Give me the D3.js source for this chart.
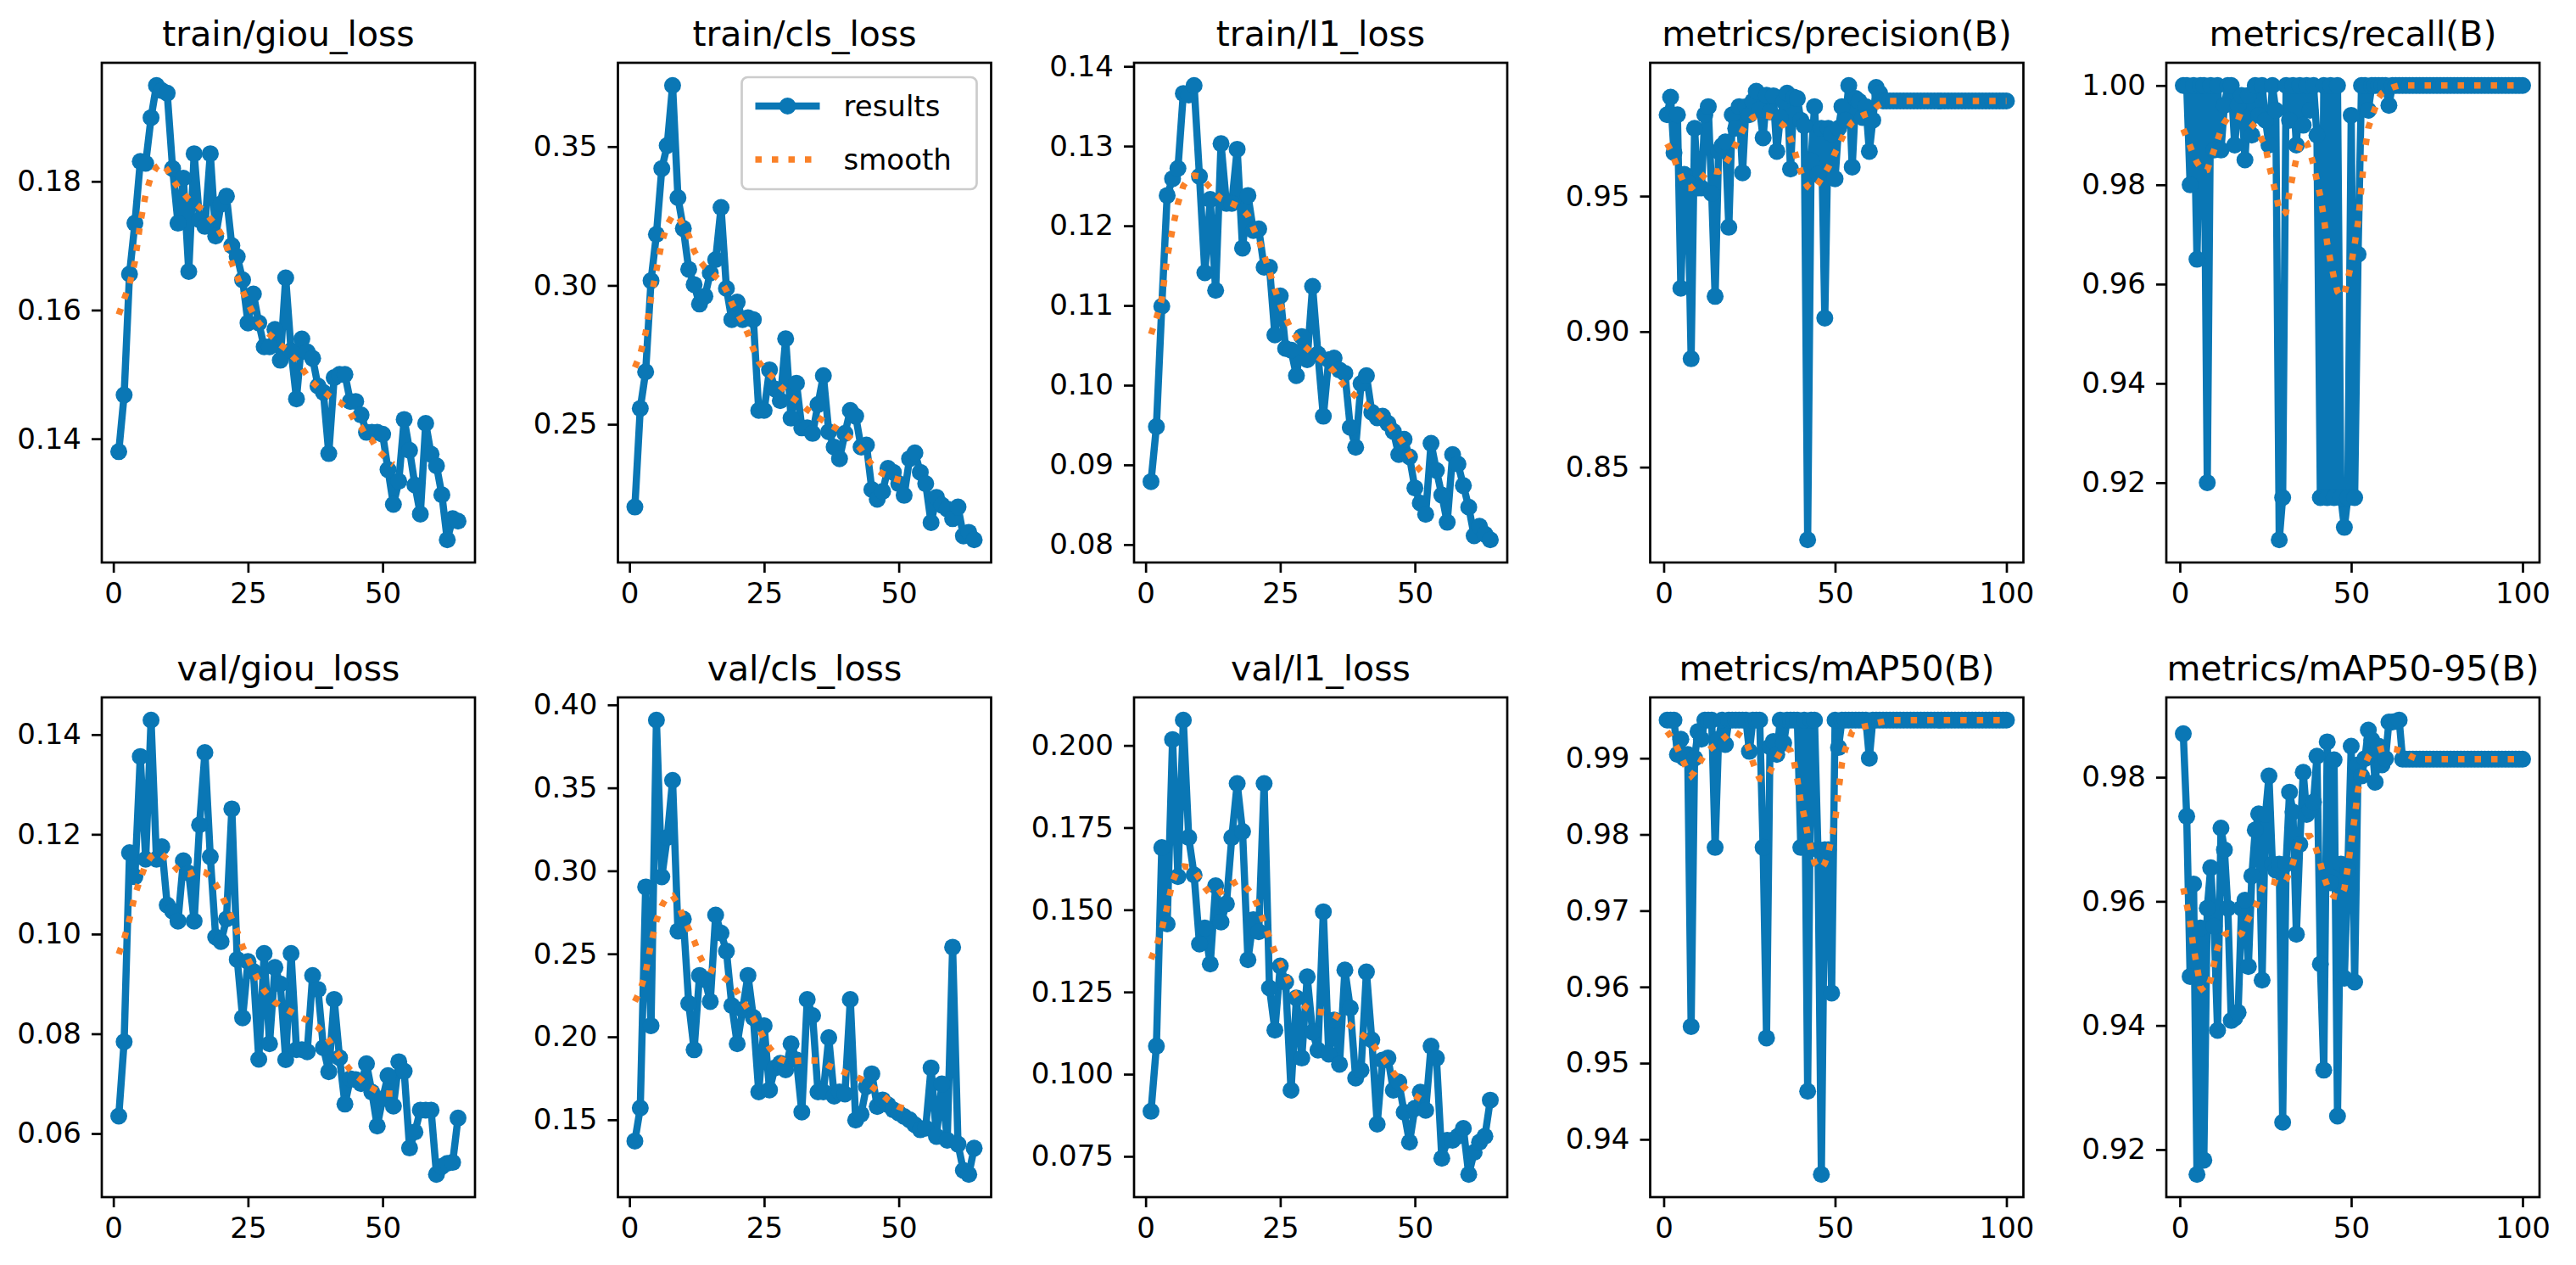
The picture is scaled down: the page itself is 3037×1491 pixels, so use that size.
<!DOCTYPE html>
<html>
<head>
<meta charset="utf-8">
<script src="https://cdn.jsdelivr.net/npm/d3@7"></script>
<style>
body { margin: 0; background: #fff; }
svg text { font-family: "DejaVu Sans", sans-serif; fill: #000; }
</style>
</head>
<body>
<svg id="chart" width="3037" height="1491"></svg>
<script>
// ---- data (one value per epoch) ----
const titles = ["train/giou_loss", "train/cls_loss", "train/l1_loss", "metrics/precision(B)", "metrics/recall(B)",
    "val/giou_loss", "val/cls_loss", "val/l1_loss", "metrics/mAP50(B)", "metrics/mAP50-95(B)"];

const trainGiou = [0.1380,0.1468,0.1656,0.1735,0.1831,0.1828,0.1899,0.1949,0.1941,0.1937,
    0.1820,0.1735,0.1805,0.1660,0.1843,0.1740,0.1730,0.1843,0.1715,0.1765,
    0.1777,0.1700,0.1683,0.1647,0.1580,0.1625,0.1580,0.1543,0.1543,0.1570,
    0.1522,0.1650,0.1537,0.1462,0.1555,0.1535,0.1525,0.1482,0.1472,0.1377,
    0.1495,0.1500,0.1500,0.1458,0.1458,0.1437,0.1410,0.1410,0.1410,0.1407,
    0.1352,0.1298,0.1334,0.1430,0.1382,0.1328,0.1283,0.1424,0.1376,0.1358,
    0.1313,0.1243,0.1276,0.1272];
const trainGiouSmooth = [0.1593,0.1617,0.1640,0.1675,0.1735,0.1780,0.1808,0.1822,0.1828,0.1818,
    0.1803,0.1791,0.1782,0.1772,0.1767,0.1760,0.1753,0.1742,0.1733,0.1718,
    0.1700,0.1673,0.1652,0.1630,0.1611,0.1594,0.1580,0.1570,0.1562,0.1555,
    0.1546,0.1540,0.1530,0.1522,0.1510,0.1498,0.1488,0.1480,0.1474,0.1467,
    0.1461,0.1457,0.1450,0.1440,0.1425,0.1418,0.1403,0.1398,0.1383,0.1375,
    0.1366,0.1360];

const trainCls = [0.2202,0.2557,0.2689,0.3017,0.3184,0.3421,0.3504,0.3720,0.3316,0.3205,
    0.3058,0.3003,0.2933,0.2961,0.3045,0.3093,0.3281,0.2989,0.2877,0.2940,
    0.2877,0.2884,0.2877,0.2550,0.2550,0.2696,0.2627,0.2585,0.2808,0.2522,
    0.2648,0.2487,0.2487,0.2467,0.2571,0.2675,0.2473,0.2418,0.2376,0.2467,
    0.2550,0.2529,0.2418,0.2425,0.2265,0.2230,0.2258,0.2341,0.2327,0.2286,
    0.2244,0.2376,0.2397,0.2327,0.2286,0.2146,0.2237,0.2209,0.2195,0.2160,
    0.2202,0.2098,0.2111,0.2084];
const trainClsSmooth = [0.2705,0.2752,0.2830,0.2955,0.3055,0.3155,0.3218,0.3252,0.3250,0.3215,
    0.3180,0.3125,0.3090,0.3065,0.3050,0.3032,0.3015,0.2982,0.2935,0.2900,
    0.2868,0.2825,0.2770,0.2725,0.2700,0.2680,0.2662,0.2637,0.2620,0.2598,
    0.2585,0.2570,0.2553,0.2540,0.2525,0.2512,0.2500,0.2490,0.2478,0.2465,
    0.2450,0.2430,0.2410,0.2380,0.2355,0.2335,0.2322,0.2315,0.2306,0.2300,
    0.2296,0.2292];

const trainL1 = [0.0879,0.0948,0.1099,0.1238,0.1259,0.1272,0.1366,0.1364,0.1376,0.1262,
    0.1141,0.1233,0.1119,0.1303,0.1228,0.1228,0.1296,0.1172,0.1238,0.1194,
    0.1196,0.1148,0.1148,0.1063,0.1112,0.1046,0.1044,0.1012,0.1061,0.1032,
    0.1124,0.1039,0.0961,0.1032,0.1034,0.1019,0.1015,0.0947,0.0922,0.1002,
    0.1012,0.0966,0.0959,0.0961,0.0952,0.0942,0.0913,0.0932,0.0910,0.0871,
    0.0852,0.0838,0.0927,0.0893,0.0862,0.0828,0.0913,0.0901,0.0874,0.0847,
    0.0811,0.0823,0.0813,0.0806];
const trainL1Smooth = [0.1064,0.1084,0.1108,0.1160,0.1196,0.1228,0.1250,0.1260,0.1263,0.1262,
    0.1255,0.1248,0.1240,0.1234,0.1231,0.1228,0.1225,0.1220,0.1213,0.1197,
    0.1182,0.1163,0.1143,0.1120,0.1101,0.1085,0.1070,0.1060,0.1052,0.1046,
    0.1040,0.1035,0.1030,0.1024,0.1017,0.1007,0.0998,0.0992,0.0986,0.0980,
    0.0975,0.0970,0.0965,0.0958,0.0952,0.0942,0.0935,0.0925,0.0913,0.0901,
    0.0893,0.0886];

const precision = [0.9800,0.9865,0.9660,0.9800,0.9160,0.9580,0.9550,0.8900,0.9750,0.9530,
    0.9530,0.9800,0.9830,0.9510,0.9130,0.9665,0.9686,0.9700,0.9385,0.9800,
    0.9750,0.9830,0.9586,0.9830,0.9800,0.9850,0.9887,0.9820,0.9715,0.9872,
    0.9810,0.9870,0.9665,0.9790,0.9850,0.9880,0.9600,0.9865,0.9860,0.9780,
    0.9760,0.8232,0.9630,0.9830,0.9580,0.9750,0.9050,0.9750,0.9730,0.9564,
    0.9750,0.9830,0.9780,0.9908,0.9607,0.9860,0.9850,0.9790,0.9830,0.9665,
    0.9780,0.9901,0.9880,0.9851,
    0.9851,0.9851,0.9851,0.9851,0.9851,0.9851,0.9851,0.9851,0.9851,0.9851,0.9851,0.9851,
    0.9851,0.9851,0.9851,0.9851,0.9851,0.9851,0.9851,0.9851,0.9851,0.9851,0.9851,0.9851,
    0.9851,0.9851,0.9851,0.9851,0.9851,0.9851,0.9851,0.9851,0.9851,0.9851,0.9851,0.9851];
const precisionSmooth = [0.9693,0.9670,0.9638,0.9605,0.9575,0.9545,0.9530,0.9530,0.9540,0.9552,
    0.9565,0.9580,0.9592,0.9595,0.9592,0.9590,0.9598,0.9620,0.9640,0.9665,
    0.9690,0.9715,0.9742,0.9762,0.9778,0.9790,0.9795,0.9798,0.9799,0.9798,
    0.9794,0.9788,0.9780,0.9770,0.9760,0.9740,0.9712,0.9675,0.9630,0.9590,
    0.9555,0.9535,0.9525,0.9528,0.9545,0.9565,0.9585,0.9605,0.9630,0.9660,
    0.9685,0.9712,0.9738,0.9755,0.9772,0.9782,0.9790,0.9797,0.9802,0.9806,
    0.9815,0.9828,0.9838,0.9845,0.9849,
    0.9851,0.9851,0.9851,0.9851,0.9851,0.9851,0.9851,0.9851,0.9851,0.9851,0.9851,0.9851,
    0.9851,0.9851,0.9851,0.9851,0.9851,0.9851,0.9851,0.9851,0.9851,0.9851,0.9851,0.9851,
    0.9851,0.9851,0.9851,0.9851,0.9851,0.9851,0.9851,0.9851,0.9851,0.9851,0.9851];

const recall = [1.000,1.000,0.980,1.000,0.965,1.000,1.000,0.920,1.000,0.987,
    1.000,0.987,0.996,1.000,1.000,0.988,0.996,0.998,0.985,0.998,
    0.990,1.000,0.994,1.000,0.993,0.988,1.000,0.995,0.9085,0.917,
    1.000,0.993,1.000,0.988,1.000,0.992,1.000,0.995,1.000,0.990,
    0.917,1.000,0.917,1.000,0.917,1.000,0.917,0.911,0.917,0.994,
    0.917,0.966,1.000,1.000,0.995,1.000,1.000,1.000,1.000,1.000,
    0.996,1.000,1.000,1.000,
    1,1,1,1,1,1,1,1,1,1,1,1,
    1,1,1,1,1,1,1,1,1,1,1,1,
    1,1,1,1,1,1,1,1,1,1,1,1];
const recallSmooth = [0.9912,0.9895,0.9878,0.9860,0.9845,0.9835,0.9828,0.9830,0.9850,0.9870,
    0.9890,0.9910,0.9925,0.9935,0.9940,0.9940,0.9938,0.9935,0.9932,0.9928,
    0.9922,0.9915,0.9905,0.9890,0.9877,0.9840,0.9812,0.9781,0.9750,0.9740,
    0.9745,0.9785,0.9820,0.9853,0.9878,0.9892,0.9885,0.9865,0.9840,0.9808,
    0.9777,0.9735,0.9682,0.9645,0.9612,0.9585,0.9575,0.9580,0.9610,0.9640,
    0.9680,0.9725,0.9795,0.9870,0.9915,0.9935,0.9955,0.9975,0.9985,0.9990,
    0.9993,0.9996,0.9998,
    1,1,1,1,1,1,1,1,1,1,1,1,1,
    1,1,1,1,1,1,1,1,1,1,1,1,
    1,1,1,1,1,1,1,1,1,1,1,1];

const valGiou = [0.0635,0.0784,0.1163,0.1115,0.1356,0.1150,0.1429,0.1150,0.1175,0.1058,
    0.1046,0.1026,0.1147,0.1122,0.1026,0.1219,0.1364,0.1155,0.0994,0.0985,
    0.1030,0.1251,0.0949,0.0832,0.0945,0.0925,0.0749,0.0961,0.0780,0.0933,
    0.0900,0.0748,0.0961,0.0768,0.0768,0.0764,0.0917,0.0889,0.0772,0.0724,
    0.0869,0.0752,0.0659,0.0710,0.0708,0.0700,0.0740,0.0683,0.0615,0.0670,
    0.0716,0.0655,0.0744,0.0725,0.0571,0.0603,0.0647,0.0647,0.0647,0.0518,
    0.0534,0.0540,0.0542,0.0631];
const valGiouSmooth = [0.0960,0.0990,0.1030,0.1078,0.1110,0.1140,0.1155,0.1163,0.1160,0.1150,
    0.1140,0.1128,0.1122,0.1120,0.1125,0.1127,0.1124,0.1115,0.1100,0.1080,
    0.1057,0.1031,0.1005,0.0975,0.0950,0.0927,0.0905,0.0887,0.0874,0.0863,
    0.0856,0.0850,0.0844,0.0838,0.0832,0.0827,0.0820,0.0813,0.0800,0.0787,
    0.0770,0.0755,0.0741,0.0727,0.0716,0.0708,0.0697,0.0691,0.0685,0.0681,
    0.0680,0.0680];

const valCls = [0.1372,0.1571,0.2903,0.2067,0.3908,0.2964,0.3200,0.3545,0.2637,0.2709,
    0.2201,0.1922,0.2370,0.2346,0.2213,0.2734,0.2625,0.2516,0.2188,0.1958,
    0.2164,0.2370,0.2116,0.1668,0.2067,0.1680,0.1813,0.1840,0.1801,0.1958,
    0.1861,0.1547,0.2225,0.2128,0.1668,0.1668,0.1995,0.1643,0.1668,0.1655,
    0.2225,0.1498,0.1534,0.1700,0.1777,0.1580,0.1620,0.1590,0.1560,0.1540,
    0.1520,0.1500,0.1470,0.1440,0.1450,0.1813,0.1400,0.1716,0.1377,0.2540,
    0.1353,0.1195,0.1171,0.1329];
const valClsSmooth = [0.2213,0.2280,0.2390,0.2560,0.2700,0.2790,0.2845,0.2850,0.2800,0.2720,
    0.2650,0.2580,0.2490,0.2425,0.2405,0.2390,0.2370,0.2345,0.2315,0.2270,
    0.2215,0.2165,0.2110,0.2050,0.1990,0.1935,0.1895,0.1865,0.1852,0.1850,
    0.1855,0.1857,0.1857,0.1857,0.1857,0.1848,0.1825,0.1812,0.1800,0.1785,
    0.1772,0.1760,0.1745,0.1725,0.1700,0.1675,0.1650,0.1620,0.1598,0.1578,
    0.1568,0.1560];

const valL1 = [0.0887,0.1085,0.1689,0.1457,0.2018,0.1601,0.2077,0.1720,0.1606,0.1396,
    0.1445,0.1335,0.1573,0.1463,0.1518,0.1720,0.1884,0.1738,0.1348,0.1470,
    0.1433,0.1884,0.1262,0.1134,0.1329,0.1280,0.0951,0.1232,0.1049,0.1296,
    0.1128,0.1073,0.1494,0.1061,0.1165,0.1030,0.1317,0.1201,0.0988,0.1012,
    0.1311,0.1104,0.0848,0.1043,0.1049,0.0951,0.0976,0.0884,0.0793,0.0896,
    0.0945,0.0890,0.1085,0.1049,0.0744,0.0799,0.0799,0.0811,0.0835,0.0695,
    0.0762,0.0793,0.0811,0.0921];
const valL1Smooth = [0.1350,0.1390,0.1440,0.1510,0.1585,0.1625,0.1632,0.1630,0.1620,0.1595,
    0.1568,0.1548,0.1545,0.1555,0.1565,0.1578,0.1587,0.1578,0.1562,0.1540,
    0.1505,0.1460,0.1415,0.1372,0.1338,0.1302,0.1265,0.1238,0.1215,0.1200,
    0.1192,0.1190,0.1188,0.1186,0.1180,0.1170,0.1160,0.1148,0.1135,0.1122,
    0.1110,0.1095,0.1072,0.1050,0.1028,0.1005,0.0985,0.0960,0.0945,0.0935,
    0.0925,0.0918];

const map50 = [0.9950,0.9950,0.9950,0.9905,0.9925,0.9900,0.9905,0.9548,0.9900,0.9935,
    0.9925,0.9950,0.9950,0.9950,0.9783,0.9925,0.9950,0.9918,0.9950,0.9950,
    0.9950,0.9950,0.9950,0.9950,0.9909,0.9950,0.9950,0.9950,0.9783,0.9533,
    0.9915,0.9922,0.9905,0.9950,0.9920,0.9950,0.9950,0.9950,0.9950,0.9783,
    0.9950,0.9463,0.9950,0.9950,0.9780,0.9354,0.9780,0.9780,0.9592,0.9950,
    0.9914,0.9950,0.9950,0.9950,0.9950,0.9950,0.9950,0.9950,0.9950,0.9900,
    0.9950,0.9950,0.9950,0.9950,
    0.995,0.995,0.995,0.995,0.995,0.995,0.995,0.995,0.995,0.995,0.995,0.995,
    0.995,0.995,0.995,0.995,0.995,0.995,0.995,0.995,0.995,0.995,0.995,0.995,
    0.995,0.995,0.995,0.995,0.995,0.995,0.995,0.995,0.995,0.995,0.995,0.995];
const map50Smooth = [0.9935,0.9929,0.9921,0.9913,0.9903,0.9893,0.9883,0.9877,0.9882,0.9890,
    0.9898,0.9905,0.9910,0.9914,0.9917,0.9920,0.9924,0.9928,0.9932,0.9935,
    0.9934,0.9931,0.9928,0.9922,0.9910,0.9895,0.9882,0.9873,0.9872,0.9875,
    0.9882,0.9892,0.9900,0.9908,0.9915,0.9913,0.9910,0.9896,0.9872,0.9843,
    0.9824,0.9800,0.9780,0.9763,0.9757,0.9755,0.9762,0.9775,0.9796,0.9817,
    0.9857,0.9893,0.9912,0.9922,0.9935,0.9938,0.9940,0.9941,0.9942,0.9943,
    0.9944,0.9946,0.9947,0.9948,0.9949,
    0.995,0.995,0.995,0.995,0.995,0.995,0.995,0.995,0.995,0.995,0.995,0.995,
    0.995,0.995,0.995,0.995,0.995,0.995,0.995,0.995,0.995,0.995,0.995,0.995,
    0.995,0.995,0.995,0.995,0.995,0.995,0.995,0.995,0.995,0.995,0.995];

const map5095 = [0.9870,0.9737,0.9479,0.9628,0.9160,0.9557,0.9183,0.9589,0.9654,0.9560,
    0.9392,0.9718,0.9683,0.9589,0.9408,0.9412,0.9421,0.9589,0.9602,0.9495,
    0.9641,0.9715,0.9741,0.9473,0.9740,0.9802,0.9660,0.9650,0.9660,0.9244,
    0.9660,0.9776,0.9744,0.9547,0.9692,0.9808,0.9740,0.9747,0.9760,0.9834,
    0.9499,0.9328,0.9857,0.9630,0.9828,0.9254,0.9660,0.9476,0.9650,0.9850,
    0.9470,0.9820,0.9802,0.9830,0.9876,0.9860,0.9792,0.9850,0.9820,0.9830,
    0.9889,0.9889,0.9890,0.9892,
    0.9829,0.9829,0.9829,0.9829,0.9829,0.9829,0.9829,0.9829,0.9829,0.9829,0.9829,0.9829,
    0.9829,0.9829,0.9829,0.9829,0.9829,0.9829,0.9829,0.9829,0.9829,0.9829,0.9829,0.9829,
    0.9829,0.9829,0.9829,0.9829,0.9829,0.9829,0.9829,0.9829,0.9829,0.9829,0.9829,0.9829];
const map5095Smooth = [0.9621,0.9595,0.9566,0.9525,0.9495,0.9462,0.9455,0.9460,0.9474,0.9500,
    0.9525,0.9538,0.9546,0.9549,0.9548,0.9546,0.9545,0.9548,0.9560,0.9572,
    0.9582,0.9590,0.9605,0.9620,0.9630,0.9633,0.9632,0.9630,0.9628,0.9628,
    0.9634,0.9646,0.9662,0.9680,0.9697,0.9702,0.9705,0.9705,0.9696,0.9680,
    0.9661,0.9640,0.9625,0.9613,0.9608,0.9607,0.9608,0.9620,0.9655,0.9695,
    0.9735,0.9780,0.9800,0.9820,0.9833,0.9840,0.9842,0.9844,0.9846,0.9847,
    0.9847,0.9846,0.9845,0.9843,0.9841,0.9838,0.9835,0.9832,0.9830,
    0.9829,0.9829,0.9829,0.9829,0.9829,0.9829,0.9829,0.9829,0.9829,0.9829,0.9829,
    0.9829,0.9829,0.9829,0.9829,0.9829,0.9829,0.9829,0.9829,0.9829,0.9829,
    0.9829,0.9829,0.9829,0.9829,0.9829,0.9829,0.9829,0.9829,0.9829,0.9829];

// tick labels
const xTicksLoss = [0, 25, 50];
const xTicksMetric = [0, 50, 100];
const yTicks = [
    [0.14, 0.16, 0.18],
    [0.25, 0.30, 0.35],
    [0.08, 0.09, 0.10, 0.11, 0.12, 0.13, 0.14],
    [0.85, 0.90, 0.95],
    [0.92, 0.94, 0.96, 0.98, 1.00],
    [0.06, 0.08, 0.10, 0.12, 0.14],
    [0.15, 0.20, 0.25, 0.30, 0.35, 0.40],
    [0.075, 0.100, 0.125, 0.150, 0.175, 0.200],
    [0.94, 0.95, 0.96, 0.97, 0.98, 0.99],
    [0.92, 0.94, 0.96, 0.98]
];
const legendLabels = ["results", "smooth"];

const results = [trainGiou, trainCls, trainL1, precision, recall, valGiou, valCls, valL1, map50, map5095];
const smooths = [trainGiouSmooth, trainClsSmooth, trainL1Smooth, precisionSmooth, recallSmooth,
    valGiouSmooth, valClsSmooth, valL1Smooth, map50Smooth, map5095Smooth];

// ---- layout / style ----
const blue = "#0a77b5", orange = "#fa8128";
const axW = 440, axH = 589;
const lefts = [120, 728.5, 1337, 1945.5, 2554];
const tops = [74, 822];
const lw = 8.5, markerR = 10, spineW = 2.7, tickLen = 12, tickPad = 12;
const dotW = 7.5, dotDash = "7.5 12";
const tickFont = 34, titleFont = 41;

let svg = d3.select("#chart");
svg.append("rect").attr("width", 3037).attr("height", 1491).attr("fill", "#fff");

results.forEach(function (ys, i) {
    const col = i % 5, row = Math.floor(i / 5);
    const sm = smooths[i];
    const g = svg.append("g").attr("transform", "translate(" + lefts[col] + "," + tops[row] + ")");

    // matplotlib style 5% margins
    const n = ys.length;
    const xpad = 0.05 * (n - 1);
    const x = d3.scaleLinear().domain([1 - xpad, n + xpad]).range([0, axW]);
    const ext = d3.extent(ys.concat(sm));
    const ypad = 0.05 * (ext[1] - ext[0]);
    const y = d3.scaleLinear().domain([ext[0] - ypad, ext[1] + ypad]).range([axH, 0]);

    // results line + point markers
    const line = d3.line().x((d, k) => x(k + 1)).y(d => y(d));
    g.append("path")
        .attr("d", line(ys))
        .attr("fill", "none")
        .attr("stroke", blue)
        .attr("stroke-width", lw)
        .attr("stroke-linejoin", "round")
        .attr("stroke-linecap", "round");
    g.append("g").selectAll("circle")
        .data(ys)
        .join("circle")
        .attr("cx", (d, k) => x(k + 1))
        .attr("cy", d => y(d))
        .attr("r", markerR)
        .attr("fill", blue);

    // smooth dotted line
    g.append("path")
        .attr("d", line(sm))
        .attr("fill", "none")
        .attr("stroke", orange)
        .attr("stroke-width", dotW)
        .attr("stroke-dasharray", dotDash)
        .attr("stroke-linecap", "butt");

    // frame
    g.append("rect")
        .attr("width", axW)
        .attr("height", axH)
        .attr("fill", "none")
        .attr("stroke", "#000")
        .attr("stroke-width", spineW);

    // axes
    const xAxis = d3.axisBottom(x)
        .tickValues(n > 64 ? xTicksMetric : xTicksLoss)
        .tickFormat(d3.format("d"))
        .tickSize(tickLen)
        .tickPadding(tickPad);
    const fmt = i === 7 ? d3.format(".3f") : d3.format(".2f");
    const yAxis = d3.axisLeft(y)
        .tickValues(yTicks[i])
        .tickFormat(fmt)
        .tickSize(tickLen)
        .tickPadding(tickPad);

    [g.append("g").attr("transform", "translate(0," + axH + ")").call(xAxis),
     g.append("g").call(yAxis)].forEach(function (a) {
        a.select(".domain").remove();
        a.attr("font-size", tickFont).attr("font-family", "DejaVu Sans");
        a.selectAll(".tick line").attr("stroke", "#000").attr("stroke-width", spineW);
        a.selectAll(".tick text").attr("fill", "#000");
    });

    // title
    g.append("text")
        .attr("x", axW / 2)
        .attr("y", -20)
        .attr("text-anchor", "middle")
        .attr("font-size", titleFont)
        .text(titles[i]);

    // legend sits in train/cls_loss only
    if (i === 1) {
        const lgW = 277, lgH = 132;
        const lx = axW - 17 - lgW, ly = 17;
        const lg = g.append("g").attr("transform", "translate(" + lx + "," + ly + ")");
        lg.append("rect")
            .attr("width", lgW)
            .attr("height", lgH)
            .attr("rx", 7)
            .attr("fill", "#fff")
            .attr("fill-opacity", 0.8)
            .attr("stroke", "#cccccc")
            .attr("stroke-width", 2.7);
        const rowY = [34, 97];
        lg.append("line")
            .attr("x1", 16).attr("x2", 92)
            .attr("y1", rowY[0]).attr("y2", rowY[0])
            .attr("stroke", blue).attr("stroke-width", lw);
        lg.append("circle")
            .attr("cx", 54).attr("cy", rowY[0]).attr("r", markerR)
            .attr("fill", blue);
        lg.append("line")
            .attr("x1", 16).attr("x2", 92)
            .attr("y1", rowY[1]).attr("y2", rowY[1])
            .attr("stroke", orange).attr("stroke-width", dotW)
            .attr("stroke-dasharray", dotDash);
        lg.selectAll("text.lab")
            .data(legendLabels)
            .join("text")
            .attr("class", "lab")
            .attr("x", 120)
            .attr("y", (d, k) => rowY[k])
            .attr("dy", "0.35em")
            .attr("font-size", tickFont)
            .text(d => d);
    }
});
</script>
</body>
</html>
